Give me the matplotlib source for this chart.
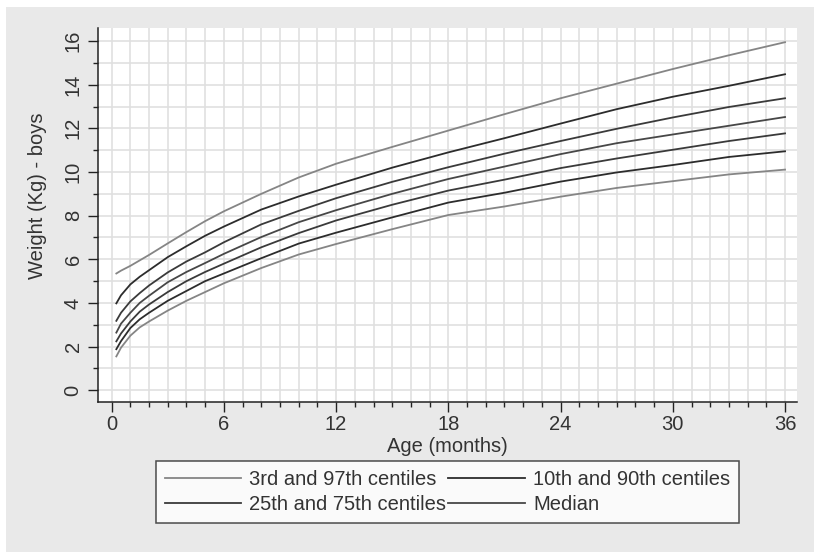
import numpy as np
import matplotlib.pyplot as plt
from matplotlib.patches import Rectangle
from matplotlib.ticker import MultipleLocator

plt.rcParams['font.family'] = ['Liberation Sans', 'DejaVu Sans']

# age in months and weight centiles (kg)
age = [0.25, 0.5, 1, 1.5, 2, 3, 4, 5, 6, 8, 10, 12, 15, 18, 21, 24, 27, 30, 33, 36]
p97 = [5.35, 5.48, 5.7, 5.95, 6.2, 6.73, 7.25, 7.75, 8.2, 9.0, 9.75, 10.38, 11.15, 11.9, 12.65, 13.38, 14.05, 14.72, 15.35, 15.95]
p90 = [3.98, 4.35, 4.85, 5.2, 5.5, 6.1, 6.6, 7.08, 7.5, 8.28, 8.88, 9.42, 10.2, 10.9, 11.55, 12.22, 12.88, 13.45, 13.95, 14.48]
p75 = [3.18, 3.55, 4.07, 4.45, 4.8, 5.4, 5.9, 6.32, 6.78, 7.6, 8.22, 8.8, 9.55, 10.22, 10.84, 11.42, 11.98, 12.5, 12.98, 13.38]
p50 = [2.64, 3.05, 3.55, 4.0, 4.33, 4.95, 5.42, 5.83, 6.25, 7.02, 7.7, 8.25, 9.0, 9.68, 10.25, 10.82, 11.32, 11.72, 12.12, 12.52]
p25 = [2.24, 2.6, 3.15, 3.6, 3.93, 4.5, 5.0, 5.42, 5.8, 6.55, 7.2, 7.78, 8.5, 9.15, 9.65, 10.18, 10.62, 11.02, 11.42, 11.77]
p10 = [1.88, 2.25, 2.85, 3.25, 3.55, 4.1, 4.55, 5.0, 5.35, 6.05, 6.72, 7.22, 7.92, 8.6, 9.05, 9.56, 9.98, 10.32, 10.69, 10.95]
p03 = [1.55, 1.95, 2.5, 2.88, 3.15, 3.65, 4.1, 4.5, 4.9, 5.6, 6.22, 6.7, 7.38, 8.03, 8.42, 8.87, 9.27, 9.58, 9.89, 10.11]

legend_labels = ['3rd and 97th centiles', '10th and 90th centiles',
                 '25th and 75th centiles', 'Median']

fig = plt.figure(figsize=(8.14, 5.52), dpi=100, facecolor='white')
fig.patches.append(Rectangle((6/814, 0), 1, 1 - 7/552, transform=fig.transFigure,
                             facecolor='#e9e9e9', edgecolor='none', zorder=-10))

ax = fig.add_axes([98/814, 1 - 402/552, 699/814, 374/552])
ax.set_facecolor('white')

c_outer = '#858585'
c_90 = '#2c2c2c'
c_75 = '#3a3a3a'
c_med = '#474747'
lw = 1.3

h1, = ax.plot(age, p97, color=c_outer, lw=lw)
ax.plot(age, p03, color=c_outer, lw=lw)
h2, = ax.plot(age, p90, color=c_90, lw=lw)
ax.plot(age, p10, color=c_90, lw=lw)
h3, = ax.plot(age, p75, color=c_75, lw=lw)
ax.plot(age, p25, color=c_75, lw=lw)
h4, = ax.plot(age, p50, color=c_med, lw=lw)

ax.set_xlim(-0.73, 36.64)
ax.set_ylim(-0.54, 16.6)

ax.xaxis.set_major_locator(MultipleLocator(6))
ax.xaxis.set_minor_locator(MultipleLocator(1))
ax.yaxis.set_major_locator(MultipleLocator(2))
ax.yaxis.set_minor_locator(MultipleLocator(1))

ax.grid(which='both', color='#e0e0e0', lw=1.2)
ax.set_axisbelow(True)

for s in ['top', 'right']:
    ax.spines[s].set_visible(False)
for s in ['left', 'bottom']:
    ax.spines[s].set_color('#222222')
    ax.spines[s].set_linewidth(1.1)

ax.tick_params(which='major', direction='out', length=7, width=1, color='#222222',
               labelsize=14.5, labelcolor='#333333', pad=4)
ax.tick_params(which='minor', direction='out', length=3.5, width=1, color='#222222')
ax.tick_params(axis='x', which='major', pad=2.5)
for lab in ax.get_yticklabels():
    lab.set_rotation(90)
    lab.set_va('center')

ax.set_xlabel('Age (months)', fontsize=14.5, color='#333333')
ax.set_ylabel('Weight (Kg) - boys', fontsize=14.5, color='#333333')
ax.xaxis.set_label_coords(0.5, -0.093)
ax.yaxis.set_label_coords(-0.073, 0.551)

leg = fig.legend([h1, h3, h2, h4], [legend_labels[0], legend_labels[2], legend_labels[1], legend_labels[3]],
                 ncol=2, loc='upper center', bbox_to_anchor=(447.5/814, 1 - 461/552),
                 fontsize=14.5, frameon=True, fancybox=False, handlelength=3.8,
                 handletextpad=0.4, columnspacing=0.1, borderpad=0.45, labelspacing=0.28,
                 borderaxespad=0)
leg.get_frame().set_edgecolor('#222222')
leg.get_frame().set_linewidth(1.1)
for t in leg.get_texts():
    t.set_color('#333333')

fig.savefig('out.png', dpi=100, facecolor=fig.get_facecolor())
